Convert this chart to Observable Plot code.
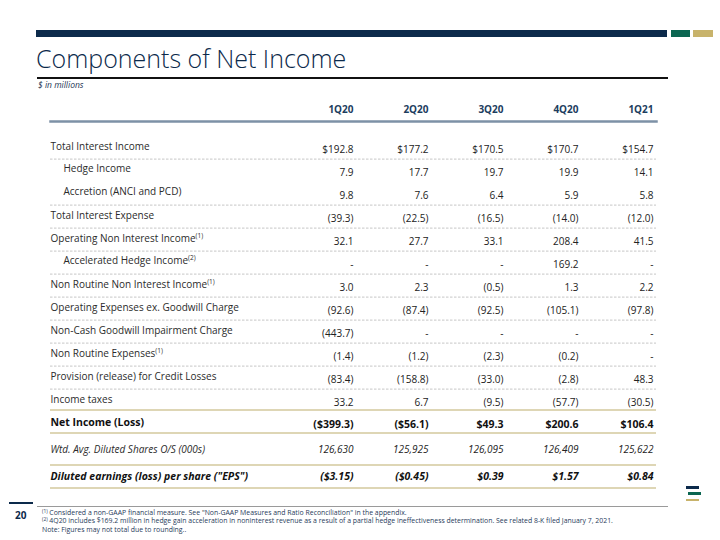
<!DOCTYPE html>
<html>
<head>
<meta charset="utf-8">
<script src="https://cdn.jsdelivr.net/npm/d3@7"></script>
<script src="https://cdn.jsdelivr.net/npm/@observablehq/plot@0.6"></script>
<style>
  body { margin: 0; background: #fff; font-family: "Open Sans", sans-serif; }
  #slide { position: relative; width: 720px; height: 540px; overflow: hidden; background: #fff; }
  .abs { position: absolute; }
  #title { left: 36px; top: 46px; font-size: 25px; line-height: 24px; color: #0c2a4b; font-weight: 300; white-space: nowrap; }
  #subtitle { left: 38px; top: 80px; font-size: 8.5px; line-height: 10px; color: #1c3553; font-style: italic; }
  #page { left: 15px; top: 509px; font-size: 10px; line-height: 12px; color: #0c2a4b; font-weight: bold; }
  #notes { left: 42px; top: 509px; font-size: 6.9px; line-height: 8.4px; color: #1f3a5a; white-space: nowrap; }
  #notes sup { font-size: 4.8px; vertical-align: 2px; line-height: 0; }
</style>
</head>
<body>
<div id="slide">
  <div class="abs" style="left:36px;top:30px;width:631px;height:7px;background:#0c2a4b"></div>
  <div class="abs" style="left:671px;top:30px;width:19px;height:7px;background:#0b6651"></div>
  <div class="abs" style="left:693px;top:30px;width:20px;height:7px;background:#c8b36b"></div>
  <div class="abs" id="title">Components of Net Income</div>
  <div class="abs" style="left:37px;top:77px;width:631px;height:1.5px;background:#111"></div>
  <div class="abs" id="subtitle">$ in millions</div>

  <div class="abs" style="left:9px;top:502px;width:24px;height:2px;background:#0c2a4b"></div>
  <div class="abs" id="page">20</div>
  <div class="abs" style="left:37px;top:506px;width:631px;height:1px;background:#9a9a9a"></div>
  <div class="abs" id="notes">
    <div><sup>(1)</sup> Considered a non-GAAP financial measure. See "Non-GAAP Measures and Ratio Reconciliation" in the appendix.</div>
    <div><sup>(2)</sup> 4Q20 includes $169.2 million in hedge gain acceleration in noninterest revenue as a result of a partial hedge ineffectiveness determination. See related 8-K filed January 7, 2021.</div>
    <div>Note: Figures may not total due to rounding..</div>
  </div>
  <div class="abs" style="left:686px;top:486px;width:13px;height:2.5px;background:#0c2a4b"></div>
  <div class="abs" style="left:688px;top:492px;width:13px;height:2.5px;background:#0b6651"></div>
  <div class="abs" style="left:686px;top:498.5px;width:13px;height:2.5px;background:#c8b36b"></div>
</div>
<script>
// ---------- data ----------
const quarters = ["1Q20", "2Q20", "3Q20", "4Q20", "1Q21"];

const rowLabels = [
  "Total Interest Income",
  "Hedge Income",
  "Accretion (ANCI and PCD)",
  "Total Interest Expense",
  "Operating Non Interest Income",
  "Accelerated Hedge Income",
  "Non Routine Non Interest Income",
  "Operating Expenses ex. Goodwill Charge",
  "Non-Cash Goodwill Impairment Charge",
  "Non Routine Expenses",
  "Provision (release) for Credit Losses",
  "Income taxes",
  "Net Income (Loss)",
  "Wtd. Avg. Diluted Shares O/S (000s)",
  "Diluted earnings (loss) per share (\"EPS\")"
];

const indentedRows = ["Hedge Income", "Accretion (ANCI and PCD)", "Accelerated Hedge Income"];
const refRows = ["Operating Non Interest Income", "Accelerated Hedge Income", "Non Routine Non Interest Income", "Non Routine Expenses"];
const refMarks = ["(1)", "(2)", "(1)", "(1)"];

const totalInterestIncome   = [192.8, 177.2, 170.5, 170.7, 154.7];
const hedgeIncome           = [7.9, 17.7, 19.7, 19.9, 14.1];
const accretion             = [9.8, 7.6, 6.4, 5.9, 5.8];
const totalInterestExpense  = [-39.3, -22.5, -16.5, -14.0, -12.0];
const operatingNonIntIncome = [32.1, 27.7, 33.1, 208.4, 41.5];
const acceleratedHedge      = [null, null, null, 169.2, null];
const nonRoutineNonIntInc   = [3.0, 2.3, -0.5, 1.3, 2.2];
const operatingExpenses     = [-92.6, -87.4, -92.5, -105.1, -97.8];
const goodwillImpairment    = [-443.7, null, null, null, null];
const nonRoutineExpenses    = [-1.4, -1.2, -2.3, -0.2, null];
const provision             = [-83.4, -158.8, -33.0, -2.8, 48.3];
const incomeTaxes           = [33.2, 6.7, -9.5, -57.7, -30.5];
const netIncome             = [-399.3, -56.1, 49.3, 200.6, 106.4];
const dilutedShares         = [126630, 125925, 126095, 126409, 125622];
const dilutedEPS            = [-3.15, -0.45, 0.39, 1.57, 0.84];

const seriesByRow = [
  totalInterestIncome, hedgeIncome, accretion, totalInterestExpense, operatingNonIntIncome,
  acceleratedHedge, nonRoutineNonIntInc, operatingExpenses, goodwillImpairment, nonRoutineExpenses,
  provision, incomeTaxes, netIncome, dilutedShares, dilutedEPS
];

// ---------- formatting ----------
const f1 = d3.format(".1f"), f2 = d3.format(".2f"), fc = d3.format(",");
function fmt(row, v) {
  if (v == null) return "-";
  if (row === rowLabels[13]) return fc(v);
  if (row === rowLabels[14]) return v < 0 ? `($${f2(-v)})` : `$${f2(v)}`;
  const money = row === rowLabels[0] || row === rowLabels[12];
  const s = f1(Math.abs(v));
  if (money) return v < 0 ? `($${s})` : `$${s}`;
  return v < 0 ? `(${s})` : s;
}

const cells = rowLabels.flatMap((row, i) =>
  quarters.map((q, j) => ({row, q, text: fmt(row, seriesByRow[i][j])}))
);

const plainRows = rowLabels.slice(0, 12);
const dashedAfter = rowLabels.slice(0, 11).filter(r => r !== "Hedge Income");
const goldA = [rowLabels[11], rowLabels[12]];
const goldB = [rowLabels[13], rowLabels[14]];

const inRows = rows => d => rows.includes(d.row);

const chart = Plot.plot({
  width: 720,
  height: 540,
  marginTop: 121,
  marginLeft: 50,
  marginRight: 64,
  marginBottom: 50,
  style: {fontFamily: "'Open Sans', sans-serif", fontSize: "10px", color: "#222", background: "transparent", overflow: "visible"},
  x: {type: "point", domain: quarters, range: [353, 653], padding: 0},
  y: {type: "point", domain: rowLabels, range: [145, 470], padding: 0, axis: null},
  marks: [
    Plot.frame({anchor: "top", stroke: "#7d91a6", strokeWidth: 2.5}),
    Plot.axisX({anchor: "top", tickSize: 0, tickPadding: 9, textAnchor: "end", fontWeight: "bold",
                fill: "#1c3d5e", fontSize: 10, label: null}),
    Plot.ruleY(dashedAfter, {y: d => d, dy: 11.6, stroke: "#b3b3b3", strokeWidth: 0.75, strokeDasharray: "2.5,1.5"}),
    Plot.ruleY(goldA, {y: d => d, dy: 9.6, stroke: "#d3c89c", strokeWidth: 1.5}),
    Plot.ruleY(goldB, {y: d => d, dy: 18.5, stroke: "#d3c89c", strokeWidth: 1.5}),

    // row labels
    Plot.text(plainRows.filter(r => !indentedRows.includes(r)), {y: d => d, text: d => d, frameAnchor: "left",
      textAnchor: "start", dy: -1, fill: "#2b2b2b", fontSize: 10}),
    Plot.text(indentedRows, {y: d => d, text: d => d, frameAnchor: "left",
      textAnchor: "start", dx: 13, dy: -2, fill: "#2b2b2b", fontSize: 10}),
    Plot.text([rowLabels[12]], {y: d => d, text: d => d, frameAnchor: "left",
      textAnchor: "start", dy: -1, fill: "#111", fontSize: 10.5, fontWeight: "bold"}),
    Plot.text([rowLabels[13]], {y: d => d, text: d => d, frameAnchor: "left",
      textAnchor: "start", dy: 3, fill: "#2b2b2b", fontSize: 10, fontStyle: "italic"}),
    Plot.text([rowLabels[14]], {y: d => d, text: d => d, frameAnchor: "left",
      textAnchor: "start", dy: 7, fill: "#111", fontSize: 10.5, fontWeight: "bold", fontStyle: "italic"}),

    // values
    Plot.text(cells, {filter: inRows(plainRows), x: "q", y: "row", text: "text", textAnchor: "end",
      dy: 2, fill: "#222", fontSize: 10}),
    Plot.text(cells, {filter: inRows([rowLabels[12]]), x: "q", y: "row", text: "text", textAnchor: "end",
      dy: 1, fill: "#111", fontSize: 10.5, fontWeight: "bold"}),
    Plot.text(cells, {filter: inRows([rowLabels[13]]), x: "q", y: "row", text: "text", textAnchor: "end",
      dy: 3, fill: "#222", fontSize: 10, fontStyle: "italic"}),
    Plot.text(cells, {filter: inRows([rowLabels[14]]), x: "q", y: "row", text: "text", textAnchor: "end",
      dy: 7, fill: "#111", fontSize: 10.5, fontWeight: "bold", fontStyle: "italic"})
  ]
});

chart.style.position = "absolute";
chart.style.left = "0px";
chart.style.top = "0px";

// footnote reference superscripts on row labels
d3.select(chart).selectAll("text").each(function() {
  const i = refRows.indexOf(this.textContent);
  if (i >= 0 && !this.querySelector("tspan")) {
    d3.select(this).append("tspan").attr("dy", "-4").attr("font-size", "6.5px").text(refMarks[i]);
  }
});

document.getElementById("slide").appendChild(chart);
</script>
</body>
</html>
